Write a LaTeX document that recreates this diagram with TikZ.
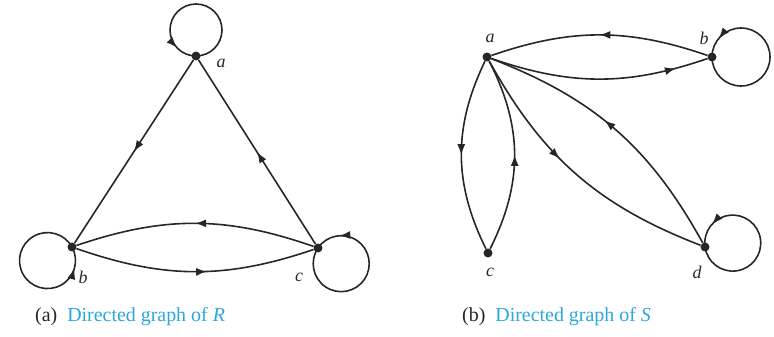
\documentclass[tikz,border=0pt]{standalone}
\usepackage{fontspec}
\setmainfont{Liberation Serif}
\usetikzlibrary{decorations.markings,arrows.meta}
\definecolor{capblue}{HTML}{2BA6DE}
\definecolor{ink}{HTML}{262626}
\tikzset{
  dot/.style={circle,fill=ink,inner sep=0pt,minimum size=9pt},
  edge/.style={draw=ink,line width=1.6pt},
  midarrow/.style={postaction={decorate},decoration={markings,
     mark=at position #1 with {\arrow{Latex[length=11pt,width=8pt]}}}},
  lbl/.style={font=\fontsize{18}{20}\selectfont\itshape,text=ink,inner sep=0pt},
  captext/.style={font=\fontsize{20}{22}\selectfont,text=ink,inner sep=0pt,anchor=west}
}
\begin{document}
\begin{tikzpicture}[x=1bp,y=1bp]
\useasboundingbox (0,0) rectangle (774,336);
% ---------- graph (a) ----------
\node[dot] (Ra) at (196,280) {};
\node[dot] (Rb) at (72,89) {};
\node[dot] (Rc) at (318,88) {};
\draw[edge,midarrow=0.5] (Ra) -- (Rb);
\draw[edge,midarrow=0.5] (Rc) -- (Ra);
\draw[edge,midarrow=0.5] (Rc) to[bend right=19] (Rb);
\draw[edge,midarrow=0.55] (Rb) to[bend right=19] (Rc);
\draw[edge,midarrow=0.87] (Ra.center) arc[start angle=-90,end angle=270,radius=26];
\draw[edge,midarrow=0.875] (Rb.center) arc[start angle=29,end angle=389,radius=28];
\draw[edge,midarrow=0.855] (Rc.center) arc[start angle=146,end angle=506,radius=28];
\node[lbl] (La) at (221,273) {a};
\node[lbl] (Lb) at (83,59) {b};
\node[lbl] (Lc) at (299,59) {c};
\node[captext] (Ca) at (35,19) {(a)\ \ \textcolor{capblue}{Directed graph of \textit{R}}};
% ---------- graph (b) ----------
\node[dot] (Sa) at (487,279) {};
\node[dot] (Sb) at (712,279) {};
\node[dot] (Sc) at (488,83) {};
\node[dot] (Sd) at (705,89) {};
\draw[edge,midarrow=0.5] (Sb) to[bend right=19] (Sa);
\draw[edge,midarrow=0.85] (Sa) to[bend right=19] (Sb);
\draw[edge,midarrow=0.5] (Sa) to[bend right=26] (Sc);
\draw[edge,midarrow=0.5] (Sc) to[bend right=27] (Sa);
\draw[edge,midarrow=0.42] (Sa) to[bend right=20] (Sd);
\draw[edge,midarrow=0.55] (Sd) to[bend right=20] (Sa);
\draw[edge,midarrow=0.89] (Sb.center) arc[start angle=180,end angle=540,radius=29];
\draw[edge,midarrow=0.86] (Sd.center) arc[start angle=188,end angle=548,radius=28];
\node[lbl] (Ma) at (490,298) {a};
\node[lbl] (Mb) at (704,298) {b};
\node[lbl] (Mc) at (490,64) {c};
\node[lbl] (Md) at (697,64) {d};
\node[captext] (Cb) at (462,19) {(b)\ \ \textcolor{capblue}{Directed graph of \textit{S}}};
\end{tikzpicture}
\end{document}
